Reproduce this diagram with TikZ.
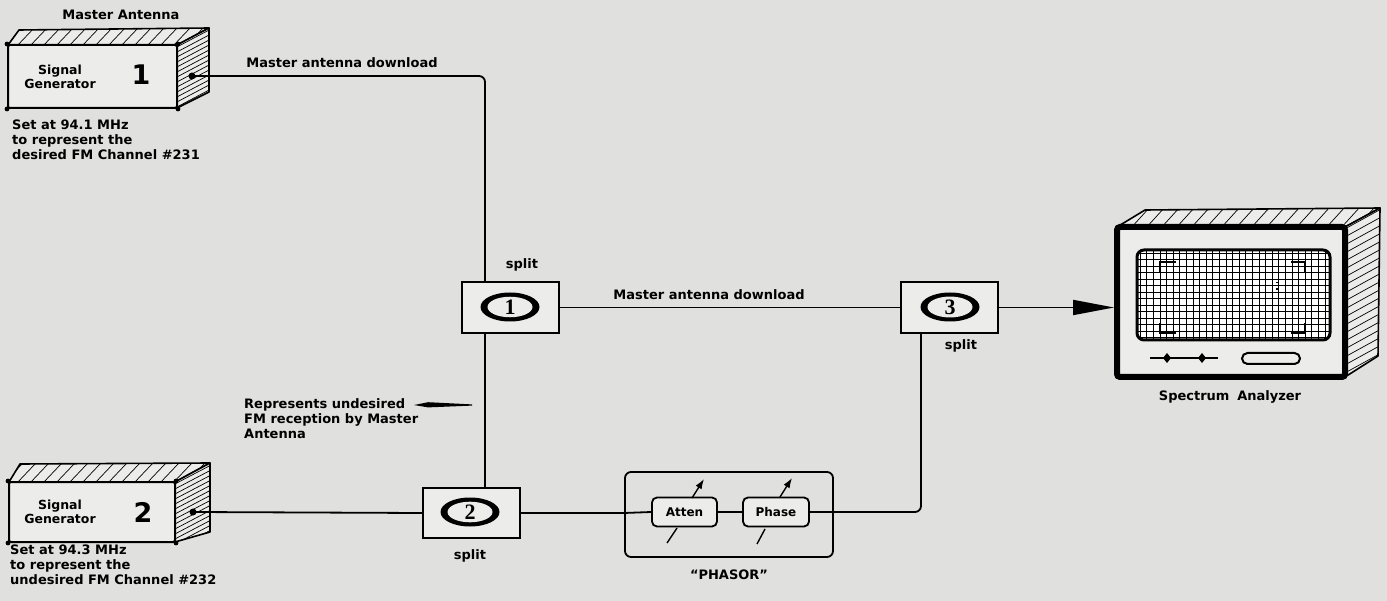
\documentclass[tikz,border=0pt]{standalone}
\usepackage{fontspec}
\setmainfont{DejaVu Sans}
\newfontfamily\numfont{Liberation Serif}
\usetikzlibrary{arrows.meta,shapes.geometric,calc}
\definecolor{paper}{RGB}{224,224,222}
\definecolor{face}{RGB}{236,236,234}
\tikzset{
  wire/.style={line width=1.8pt},
  lbl/.style={font=\fontsize{13}{15}\selectfont\bfseries, inner sep=0pt},
  notes/.style={lbl, align=left, anchor=north west},
  bignum/.style={font=\fontsize{27}{27}\selectfont\bfseries, inner sep=0pt},
  splitbox/.style={draw, line width=1.8pt, fill=face, minimum width=97pt, minimum height=51pt, inner sep=0pt},
  ringout/.style={ellipse, fill=black, minimum width=59pt, minimum height=29pt, inner sep=0pt},
  ringin/.style={ellipse, fill=face, minimum width=45pt, minimum height=20pt, inner sep=0pt,
                 font=\numfont\bfseries\fontsize{22}{22}\selectfont},
  genface/.style={draw, line width=2pt, rounded corners=2pt, fill=face, inner sep=0pt},
  slab/.style={draw, line width=1.6pt, fill=face, line join=round},
  hatch/.style={line width=0.7pt},
  ctrlbox/.style={draw, line width=1.8pt, rounded corners=5pt, fill=face, inner sep=0pt,
                  minimum height=29pt, font=\fontsize{12}{14}\selectfont\bfseries},
  knob/.style={line width=1.4pt},
  knobtip/.style={knob, -{Latex[length=10pt,width=7pt]}},
}
\begin{document}
\begin{tikzpicture}[x=1pt,y=-1pt]
\useasboundingbox (0,0) rectangle (1387,601);
\fill[paper] (0,0) rectangle (1387,601);

\coordinate (x485) at (485,0);
\coordinate (x921) at (921,0);

% ---------- signal generator 1 (hatched cabinet) ----------
\filldraw[slab] (8,45) -- (19,30) -- (209,28) -- (177,45) -- cycle;
\begin{scope}
  \clip (8,45) -- (19,30) -- (209,28) -- (177,45) -- cycle;
  \foreach \x in {-10,3,...,230} \draw[hatch] (\x,47) -- ++(20,-21);
\end{scope}
\filldraw[slab] (177,45) -- (209,28) -- (209,92) -- (177,108) -- cycle;
\begin{scope}
  \clip (177,45) -- (209,28) -- (209,92) -- (177,108) -- cycle;
  \foreach \y in {38,43,...,132} \draw[hatch] (175,\y) -- ++(36,-19);
\end{scope}
\node[genface, minimum width=169pt, minimum height=63pt] (g1) at (92.5,76.5) {};
\foreach \a in {north west,north east,south west,south east} \fill (g1.\a) circle (2.4pt);
\node[lbl, align=center, font=\fontsize{12.5}{14}\selectfont\bfseries] (g1t) at (60,77) {Signal\\Generator};
\node[bignum] (g1n) at (141,75) {1};
\fill (192,76) circle (3.5pt) coordinate (d1);
\node[lbl] (ma) at (121,15) {Master Antenna};
\node[notes] (n1) at (12,120) {Set at 94.1 MHz\\to represent the\\desired FM Channel \#231};

% ---------- signal generator 2 ----------
\filldraw[slab] (9,482) -- (20,464) -- (210,463) -- (175,482) -- cycle;
\begin{scope}
  \clip (9,482) -- (20,464) -- (210,463) -- (175,482) -- cycle;
  \foreach \x in {-10,3,...,230} \draw[hatch] (\x,484) -- ++(20,-21);
\end{scope}
\filldraw[slab] (175,482) -- (210,463) -- (210,532) -- (175,542) -- cycle;
\begin{scope}
  \clip (175,482) -- (210,463) -- (210,532) -- (175,542) -- cycle;
  \foreach \y in {475,480,...,570} \draw[hatch] (173,\y) -- ++(40,-21);
\end{scope}
\node[genface, minimum width=166pt, minimum height=60pt] (g2) at (92,512) {};
\foreach \a in {north west,north east,south west,south east} \fill (g2.\a) circle (2.4pt);
\node[lbl, align=center, font=\fontsize{12.5}{14}\selectfont\bfseries] (g2t) at (60,512) {Signal\\Generator};
\node[bignum] (g2n) at (143,512) {2};
\fill (193,512) circle (3.5pt) coordinate (d2);
\node[notes] (n2) at (10,545) {Set at 94.3 MHz\\to represent the\\undesired FM Channel \#232};

% ---------- splitters ----------
\node[splitbox] (b1) at (510.5,307.5) {};
\node[ringout] (r1o) at (510,307) {};
\node[ringin] (r1) at (510,307) {1};
\node[lbl] (s1) at (522,265) {split};

\node[splitbox, minimum height=50pt] (b2) at (471.5,513) {};
\node[ringout] (r2o) at (470,512) {};
\node[ringin] (r2) at (470,512) {2};
\node[lbl] (s2) at (470,556) {split};

\node[splitbox] (b3) at (949.5,307.5) {};
\node[ringout] (r3o) at (950,307) {};
\node[ringin] (r3) at (950,307) {3};
\node[lbl] (s3) at (961,346) {split};

% ---------- phasor ----------
\node[draw, line width=1.8pt, rounded corners=6pt, minimum width=208pt, minimum height=85pt, inner sep=0pt] (ph) at (729,514.5) {};
\node[ctrlbox, minimum width=65pt] (at) at (684.5,512) {Atten};
\node[ctrlbox, minimum width=66pt] (ps) at (776,512) {Phase};
\node[lbl] (phl) at (729,575) {``PHASOR''};
\draw[knob] (667,543) -- (677,528);
\draw[knobtip] (692,498) -- (704,479);
\draw[knob] (757,544) -- (765,529);
\draw[knobtip] (780,497) -- (792,478);

% ---------- spectrum analyzer ----------
\filldraw[slab] (1117,227) -- (1145,210) -- (1380,208) -- (1345,227) -- cycle;
\begin{scope}
  \clip (1117,227) -- (1145,210) -- (1380,208) -- (1345,227) -- cycle;
  \foreach \x in {1100,1115,...,1390} \draw[hatch] (\x,229) -- ++(20,-22);
\end{scope}
\filldraw[slab] (1345,227) -- (1380,208) -- (1378,356) -- (1345,377) -- cycle;
\begin{scope}
  \clip (1345,227) -- (1380,208) -- (1378,356) -- (1345,377) -- cycle;
  \foreach \y in {222,230,...,400} \draw[hatch] (1343,\y) -- ++(40,-22);
\end{scope}
\node[draw, line width=6pt, rounded corners=3pt, fill=face, minimum width=228pt, minimum height=150pt, inner sep=0pt] (an) at (1231,302) {};
\node[draw, line width=3pt, rounded corners=7pt, fill=white, minimum width=193pt, minimum height=90pt, inner sep=0pt] (scr) at (1233.5,295) {};
\begin{scope}
  \clip[rounded corners=6pt] (1137,250) rectangle (1330,340);
  \foreach \x in {1140,1146.6,...,1330} \draw[line width=0.6pt] (\x,250) -- (\x,340);
  \foreach \y in {253,259.5,...,340} \draw[line width=0.6pt] (1137,\y) -- (1330,\y);
\end{scope}
\draw[line width=2.5pt] (1160,273) -- (1160,262) -- (1176,262);
\draw[line width=2.5pt] (1291,262) -- (1305,262) -- (1305,273);
\draw[line width=2.5pt] (1160,323) -- (1160,333) -- (1176,333);
\draw[line width=2.5pt] (1291,333) -- (1305,333) -- (1305,323);
\draw[line width=1.2pt, dotted] (1277,282) -- (1277,294);
\draw[line width=2pt] (1150,358) -- (1218,358);
\foreach \x in {1167,1202} \fill (\x,353) -- (\x+4,358) -- (\x,363) -- (\x-4,358) -- cycle;
\draw[line width=2pt, rounded corners=5.5pt, fill=face] (1242,353) rectangle (1300,364);
\node[lbl] (anl) at (1230,397) {Spectrum\hspace{0.6em}Analyzer};

% ---------- wiring ----------
\draw[wire, rounded corners=6pt] (d1) -- (d1 -| x485) -- (b1.north -| x485);
\node[lbl] (dl1) at (342,63) {Master antenna download};
\draw[wire] (b1.south -| x485) -- (b2.north -| x485);
\draw[wire] (d2) -- (b2.west);
\draw[wire] (b2.east) -- (ph.west |- b2.east) -- (at.west);
\draw[wire] (at.east) -- (ps.west);
\draw[wire, rounded corners=6pt] (ps.east) -- (ph.east |- ps.east) -- (x921 |- ps.east) -- (b3.south -| x921);
\draw[wire] (b1.east) -- (b3.west);
\node[lbl] (dl2) at (709,295) {Master antenna download};
\draw[wire, -{Triangle[length=41pt,width=15pt]}] (b3.east) -- (b3.east -| an.west);

% ---------- note on undesired pickup ----------
\node[notes] (rep) at (244,398) {Represents undesired\\FM reception by Master\\Antenna};
\coordinate (wtip) at (414,405);
\coordinate (wend) at (472,405);
\fill (wtip) -- ($(wtip)+(14,-2.8)$) -- ($(wend)+(0,-0.6)$) -- ($(wend)+(0,0.6)$) -- ($(wtip)+(14,2.4)$) -- cycle;
\end{tikzpicture}
\end{document}
